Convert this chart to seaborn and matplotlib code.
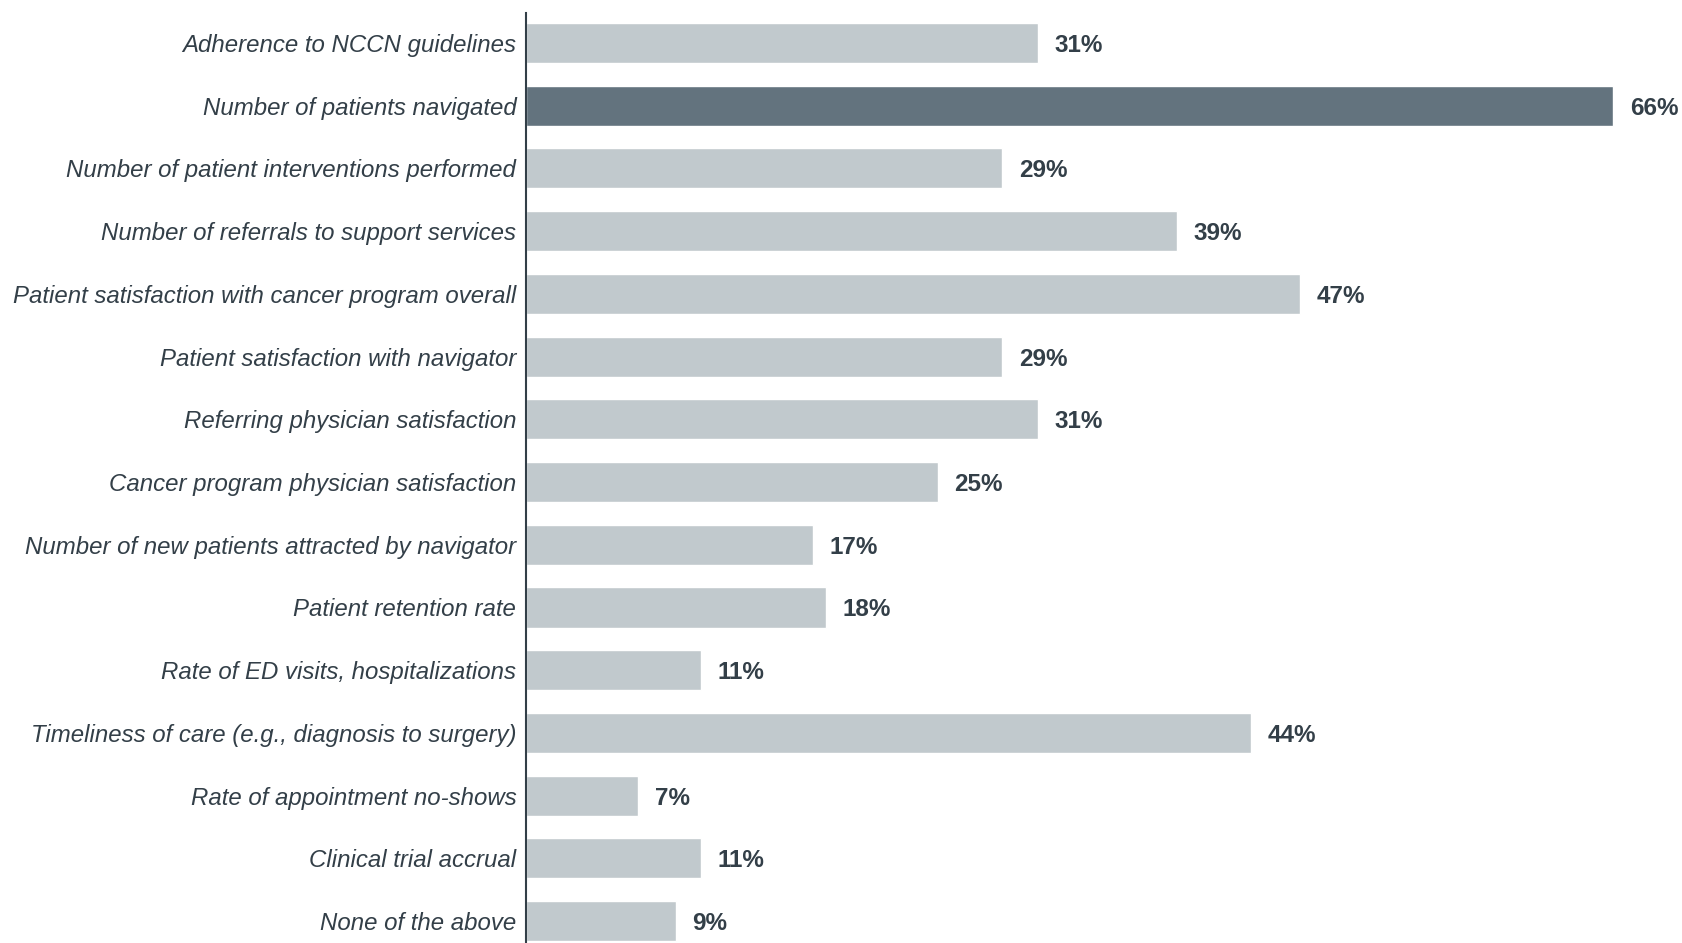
import pandas as pd
import matplotlib.pyplot as plt
import seaborn as sns

# Datos del grafico
categorias = [
    'Adherence to NCCN guidelines',
    'Number of patients navigated',
    'Number of patient interventions performed',
    'Number of referrals to support services',
    'Patient satisfaction with cancer program overall',
    'Patient satisfaction with navigator',
    'Referring physician satisfaction',
    'Cancer program physician satisfaction',
    'Number of new patients attracted by navigator',
    'Patient retention rate',
    'Rate of ED visits, hospitalizations',
    'Timeliness of care (e.g., diagnosis to surgery)',
    'Rate of appointment no-shows',
    'Clinical trial accrual',
    'None of the above',
]
porcentajes = [31.1, 66, 28.9, 39.5, 47, 28.9, 31.1, 25, 17.4, 18.2, 10.6, 44, 6.8, 10.6, 9.1]
etiquetas = ['31%', '66%', '29%', '39%', '47%', '29%', '31%', '25%', '17%', '18%',
             '11%', '44%', '7%', '11%', '9%']
destacado = 'Number of patients navigated'

df = pd.DataFrame({'categoria': categorias, 'valor': porcentajes, 'etiqueta': etiquetas})
df['grupo'] = ['alto' if c == destacado else 'normal' for c in df['categoria']]

sns.set_style('white')
plt.rcParams['font.family'] = ['Liberation Sans', 'DejaVu Sans']

texto = '#333F48'
fig = plt.figure(figsize=(16.83, 9.43), dpi=100)
ax = fig.add_axes([526 / 1683, 0, 1 - 526 / 1683, 1 - 13 / 943])

sns.barplot(data=df, x='valor', y='categoria', hue='grupo',
            palette={'normal': '#BFC9CF', 'alto': '#5F7482'},
            width=0.64, dodge=False, legend=False, ax=ax)

# etiquetas de valor al final de cada barra
for cont in ax.containers:
    textos = []
    for barra in cont:
        y = barra.get_y() + barra.get_height() / 2
        textos.append(df['etiqueta'].iloc[int(round(y))])
    anots = ax.bar_label(cont, labels=textos, padding=12, fontsize=17.5,
                         fontweight='bold', color=texto)
    for a in anots:
        a.set_verticalalignment('center_baseline')

ax.set_xlim(0, 70.25)
ax.set_ylim(14.35, -0.478)
ax.set_xlabel('')
ax.set_ylabel('')
ax.set_xticks([])
for lado in ['top', 'right', 'bottom']:
    ax.spines[lado].set_visible(False)
ax.spines['left'].set_color(texto)
ax.spines['left'].set_linewidth(1.5)
ax.tick_params(axis='y', length=0, pad=7)
for lbl in ax.get_yticklabels():
    lbl.set_fontstyle('italic')
    lbl.set_fontsize(17.3)
    lbl.set_color(texto)

plt.savefig('out.png', dpi=100)
